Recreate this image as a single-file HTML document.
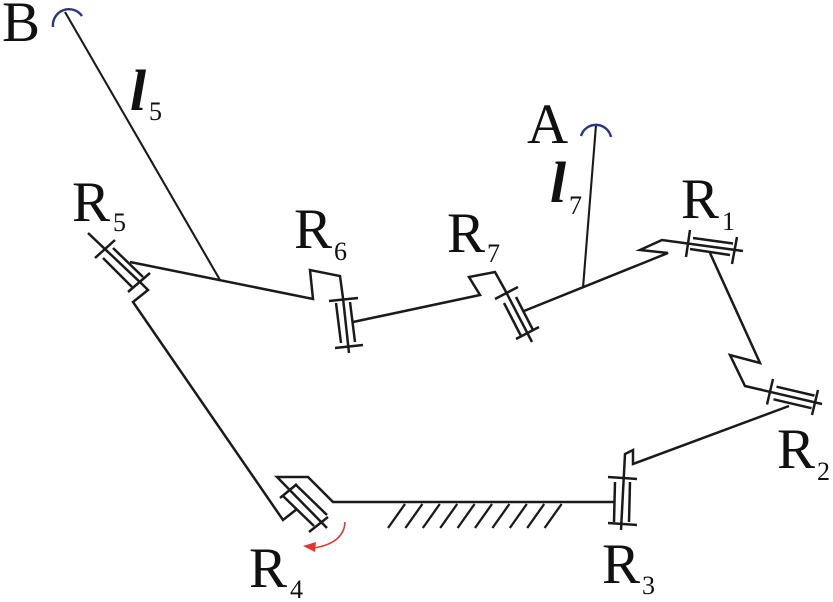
<!DOCTYPE html>
<html><head><meta charset="utf-8"><style>
html,body{margin:0;padding:0;background:#fff;}
svg{display:block;}
.t{font-family:"Liberation Serif","DejaVu Serif","Times New Roman",serif;fill:#111;}
</style></head><body>
<svg width="833" height="602" viewBox="0 0 833 602" xmlns="http://www.w3.org/2000/svg">
<g fill="none" stroke="#1a1a1a" stroke-width="2.5" stroke-linejoin="miter" stroke-linecap="butt">
<!-- B link and A link -->
<line x1="65" y1="12" x2="220" y2="280" stroke-width="2.1"/>
<line x1="596" y1="125" x2="583" y2="288" stroke-width="2.1"/>

<!-- R5 joint -->
<polyline points="88,233 143,285 148,290 133,302 283,520 297,509"/>
<line x1="95" y1="258" x2="115" y2="240"/>
<line x1="128" y1="292" x2="150" y2="273"/>
<line x1="103" y1="258" x2="132" y2="287"/>
<line x1="113" y1="248" x2="143" y2="277"/>

<!-- R5 -> R6 link -->
<polyline points="130,262 313,299 310,270 340,276 343,298 349,353"/>
<!-- R6 joint -->
<line x1="329" y1="301" x2="358" y2="298"/>
<line x1="335" y1="348" x2="363" y2="345"/>
<line x1="336" y1="303" x2="341" y2="343"/>
<line x1="350" y1="302" x2="355" y2="342"/>

<!-- R6 -> R7 link -->
<polyline points="353,322 480,295 469,277 495,272 505,290 532,342"/>
<!-- R7 joint -->
<line x1="495" y1="299" x2="518" y2="287"/>
<line x1="516" y1="339" x2="539" y2="327"/>
<line x1="504" y1="303" x2="521" y2="336"/>
<line x1="516" y1="297" x2="533" y2="330"/>

<!-- R7 -> R1 link -->
<polyline points="524,311 668,253 640,250 662,240 743,251"/>
<!-- R1 joint -->
<line x1="690" y1="230" x2="686" y2="257"/>
<line x1="737" y1="237" x2="732" y2="264"/>
<line x1="693" y1="238" x2="733" y2="243.5"/>
<line x1="690" y1="249" x2="730" y2="255"/>

<!-- R1 -> R2 link -->
<polyline points="710,253 760,363 730,355 745,386 822,404"/>
<!-- R2 joint -->
<line x1="773" y1="379" x2="767" y2="404.5"/>
<line x1="818" y1="390" x2="812" y2="415"/>
<line x1="776.5" y1="386.7" x2="814.5" y2="395.6"/>
<line x1="773.5" y1="399.3" x2="811.5" y2="408.2"/>

<!-- R2 -> R3 link -->
<polyline points="789,406 633,464 633,450 625,454 621,530"/>
<!-- R3 joint -->
<line x1="608" y1="477" x2="637" y2="479"/>
<line x1="608" y1="523" x2="637" y2="525"/>
<line x1="615" y1="482" x2="614" y2="522"/>
<line x1="630" y1="482" x2="629" y2="522"/>

<!-- ground link R3 -> R4 -->
<polyline points="615,502 333,502 308,477 277,477 327,528"/>
<!-- R4 joint -->
<line x1="280" y1="498" x2="297" y2="484"/>
<line x1="309" y1="532" x2="328" y2="517"/>
<line x1="283" y1="496" x2="314" y2="526"/>
<line x1="295" y1="484" x2="327" y2="515"/>

<!-- hatch -->
<g stroke-width="2.3">
<line x1="388" y1="528" x2="405" y2="504"/>
<line x1="405.4" y1="528" x2="422.4" y2="504"/>
<line x1="422.8" y1="528" x2="439.8" y2="504"/>
<line x1="440.2" y1="528" x2="457.2" y2="504"/>
<line x1="457.6" y1="528" x2="474.6" y2="504"/>
<line x1="475" y1="528" x2="492" y2="504"/>
<line x1="492.4" y1="528" x2="509.4" y2="504"/>
<line x1="509.8" y1="528" x2="526.8" y2="504"/>
<line x1="527.2" y1="528" x2="544.2" y2="504"/>
<line x1="544.6" y1="528" x2="561.6" y2="504"/>
</g>
</g>

<!-- end-effector arcs -->
<path d="M53,27 A16,16 0 0 1 82,16" fill="none" stroke="#2e3580" stroke-width="2.4"/>
<path d="M581,136 A15.5,15.5 0 0 1 611,137" fill="none" stroke="#2e3580" stroke-width="2.4"/>

<!-- red rotation arrow -->
<path d="M345,522 Q344,543 314,548" fill="none" stroke="#e2362e" stroke-width="1.6"/>
<polygon points="303,546 316,542 315,552" fill="#e2362e"/>

<!-- labels -->
<g class="t" font-family="Liberation Serif, DejaVu Serif, serif">
<text x="2" y="41" font-size="57">B</text>
<text x="130" y="110" font-size="58" font-style="italic" font-weight="bold">l</text>
<text x="149" y="120" font-size="26">5</text>
<text x="527" y="143" font-size="57">A</text>
<text x="550" y="202" font-size="58" font-style="italic" font-weight="bold">l</text>
<text x="569" y="214" font-size="26">7</text>

<text x="72" y="221" font-size="57">R</text>
<text x="113" y="231" font-size="26">5</text>
<text x="294" y="248" font-size="57">R</text>
<text x="334" y="260" font-size="26">6</text>
<text x="447" y="252" font-size="57">R</text>
<text x="487" y="262" font-size="26">7</text>
<text x="681" y="218" font-size="57">R</text>
<text x="722" y="230" font-size="26">1</text>
<text x="777" y="468" font-size="57">R</text>
<text x="817" y="480" font-size="26">2</text>
<text x="602" y="583" font-size="57">R</text>
<text x="642" y="594" font-size="26">3</text>
<text x="249" y="587" font-size="57">R</text>
<text x="290" y="598" font-size="26">4</text>
</g>
</svg>
</body></html>
